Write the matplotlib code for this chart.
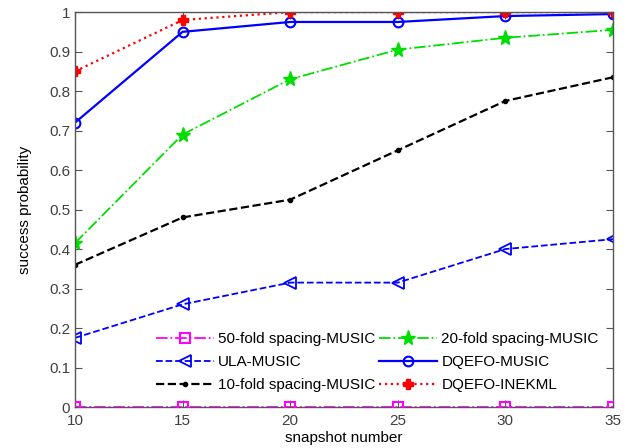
import matplotlib.pyplot as plt

plt.rcParams['font.family'] = ['Liberation Sans', 'DejaVu Sans']

snapshots = [10, 15, 20, 25, 30, 35]
fold50_music = [0, 0, 0, 0, 0, 0]
fold20_music = [0.415, 0.69, 0.83, 0.905, 0.935, 0.955]
ula_music = [0.175, 0.26, 0.315, 0.315, 0.40, 0.425]
dqefo_music = [0.72, 0.95, 0.975, 0.975, 0.99, 0.995]
fold10_music = [0.36, 0.48, 0.525, 0.65, 0.775, 0.835]
dqefo_inekml = [0.85, 0.98, 1.0, 1.0, 1.0, 1.0]

yticks = [0, 0.1, 0.2, 0.3, 0.4, 0.5, 0.6, 0.7, 0.8, 0.9, 1]
ytick_labels = ['0', '0.1', '0.2', '0.3', '0.4', '0.5', '0.6', '0.7', '0.8', '0.9', '1']

fig = plt.figure(figsize=(6.3, 4.48), dpi=100)
ax = fig.add_axes([0.119, 0.0915, 0.854, 0.8815])

ax.plot(snapshots, fold50_music, color='#ff00ff', ls='-.', lw=1.3, marker='s',
        ms=7, mfc='none', mew=1.5, label='50-fold spacing-MUSIC', zorder=5)
ax.plot(snapshots, ula_music, color='#0000ff', ls='--', lw=1.3, marker='<',
        ms=8, mfc='none', mew=1.3, label='ULA-MUSIC')
ax.plot(snapshots, fold10_music, color='black', ls='--', lw=1.6, marker='.',
        ms=6, label='10-fold spacing-MUSIC')
ax.plot(snapshots, fold20_music, color='#00dd00', ls='-.', lw=1.3, marker='*',
        ms=11, mfc='#00dd00', label='20-fold spacing-MUSIC')
ax.plot(snapshots, dqefo_music, color='#0000ff', ls='-', lw=1.6, marker='o',
        ms=7, mfc='none', mew=1.5, label='DQEFO-MUSIC')
ax.plot(snapshots, dqefo_inekml, color='#ff0000', ls=':', lw=1.6, marker='P',
        ms=7, label='DQEFO-INEKML')

ax.set_xlim(10, 35)
ax.set_ylim(0, 1)
ax.set_xticks(snapshots)
ax.set_yticks(yticks)
ax.set_yticklabels(ytick_labels)
ax.tick_params(direction='in', top=True, right=True, labelsize=11,
               labelcolor='#404040', color='#555555', length=5)
ax.tick_params(axis='x', pad=5)
for s in ax.spines.values():
    s.set_color('#555555')
    s.set_linewidth(1.0)

ax.set_xlabel('snapshot number', fontsize=11, labelpad=2)
ax.set_ylabel('success probability', fontsize=11, labelpad=12)

ax.legend(ncol=2, loc='lower right', bbox_to_anchor=(0.985, 0.022),
          frameon=False, fontsize=11, handlelength=3.8, columnspacing=0.2,
          handletextpad=0.3, labelspacing=0.6, borderaxespad=0)

fig.savefig('out.png', dpi=100, facecolor='white')
